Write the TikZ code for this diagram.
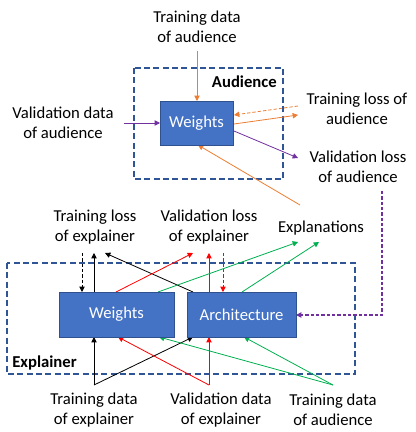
\documentclass[tikz,border=0pt]{standalone}
\usepackage{fontspec}
\setmainfont{Carlito}
\usetikzlibrary{arrows.meta}
\pgfdeclarelayer{edgelayer}
\pgfdeclarelayer{nodelayer}
\pgfsetlayers{edgelayer,nodelayer,main}
\definecolor{boxblue}{HTML}{4472C4}
\definecolor{boxedge}{HTML}{2F528F}
\definecolor{groupblue}{HTML}{2F5597}
\definecolor{aorange}{HTML}{ED7D31}
\definecolor{apurple}{HTML}{7030A0}
\definecolor{agreen}{HTML}{00B050}
\tikzset{font=\fontsize{12.5}{15}\selectfont}
\tikzstyle{none}=[inner sep=0pt]
\tikzstyle{txt}=[align=center,inner sep=0pt]
\tikzstyle{block}=[fill=boxblue,draw=boxedge,text=white,inner sep=0pt]
\tikzstyle{group}=[draw=groupblue,line width=1.1pt,dash pattern=on 4.5pt off 2.5pt]
\tikzstyle{arr}=[line width=0.6pt,-{Triangle[length=4pt,width=4pt]}]
\tikzstyle{dsh}=[dash pattern=on 2.5pt off 1.5pt]

\begin{document}
\begin{tikzpicture}[x=0.75pt,y=-0.75pt]
	\useasboundingbox (0,0) rectangle (416,432);
	\begin{pgfonlayer}{nodelayer}
		\node [style=block,minimum width=54.75pt,minimum height=33pt] (w0) at (196.5,123) {Weights};
		\node [style=block,minimum width=86.25pt,minimum height=33.75pt] (w1) at (116.5,314.5) {Weights};
		\node [style=block,minimum width=81.75pt,minimum height=33.75pt] (ar) at (241.5,314.5) {Architecture};
		\node [style=txt] (t0) at (197,26.5) {Training data\\of audience};
		\node [style=txt] (t1) at (63,123) {Validation data\\of audience};
		\node [style=txt] (t2) at (357,109) {Training loss of\\audience};
		\node [style=txt] (t3) at (358,167) {Validation loss\\of audience};
		\node [style=txt,anchor=east] (t4) at (277,82) {\textbf{Audience}};
		\node [style=txt] (t5) at (95,227) {Training loss\\of explainer};
		\node [style=txt] (t6) at (209,227) {Validation loss\\of explainer};
		\node [style=txt] (t7) at (321,228) {Explanations};
		\node [style=txt,anchor=west] (t8) at (12,363) {\textbf{Explainer}};
		\node [style=txt] (t9) at (94,410) {Training data\\of explainer};
		\node [style=txt] (t10) at (221,410) {Validation data\\of explainer};
		\node [style=txt] (t11) at (333,410) {Training data\\of audience};
		% arrow ends, audience
		\node [style=none] (0) at (197,51) {};
		\node [style=none] (1) at (197,101) {};
		\node [style=none] (2) at (124,123) {};
		\node [style=none] (3) at (160,123) {};
		\node [style=none] (4) at (298,106) {};
		\node [style=none] (5) at (234,115) {};
		\node [style=none] (6) at (234,124) {};
		\node [style=none] (7) at (298,115) {};
		\node [style=none] (8) at (234,131) {};
		\node [style=none] (9) at (298,158) {};
		\node [style=none] (10) at (300,205) {};
		\node [style=none] (11) at (198,145) {};
		\node [style=none] (12) at (382,191) {};
		\node [style=none] (13) at (382,315) {};
		\node [style=none] (14) at (296,315) {};
		% arrow ends, explainer top
		\node [style=none] (15) at (82,253) {};
		\node [style=none] (16) at (82,292) {};
		\node [style=none] (17) at (94,292) {};
		\node [style=none] (18) at (94,253) {};
		\node [style=none] (19) at (193,292) {};
		\node [style=none] (20) at (105,253) {};
		\node [style=none] (21) at (116,292) {};
		\node [style=none] (22) at (193,253) {};
		\node [style=none] (23) at (209,292) {};
		\node [style=none] (24) at (209,253) {};
		\node [style=none] (25) at (223,253) {};
		\node [style=none] (26) at (223,292) {};
		\node [style=none] (27) at (158,292) {};
		\node [style=none] (28) at (298,242) {};
		\node [style=none] (29) at (242,292) {};
		\node [style=none] (30) at (319,242) {};
		% arrow ends, explainer bottom
		\node [style=none] (31) at (94,385) {};
		\node [style=none] (32) at (94,337) {};
		\node [style=none] (33) at (193,337) {};
		\node [style=none] (34) at (209,385) {};
		\node [style=none] (35) at (118,337) {};
		\node [style=none] (36) at (209,337) {};
		\node [style=none] (37) at (333,385) {};
		\node [style=none] (38) at (159,337) {};
		\node [style=none] (39) at (244,337) {};
	\end{pgfonlayer}
	\begin{pgfonlayer}{edgelayer}
		\draw [style=group] (134,68) rectangle (283,179);
		\draw [style=group] (7,263) rectangle (355,374);
		\draw [style=arr,aorange] (0.center) to (1.center);
		\draw [style=arr,apurple] (2.center) to (3.center);
		\draw [style=arr,aorange,style=dsh] (4.center) to (5.center);
		\draw [style=arr,aorange] (6.center) to (7.center);
		\draw [style=arr,apurple] (8.center) to (9.center);
		\draw [style=arr,aorange] (10.center) to (11.center);
		\draw [style=arr,apurple,style=dsh,line width=0.8pt] (12.center) to (13.center) to (14.center);
		\draw [style=arr,black,style=dsh] (15.center) to (16.center);
		\draw [style=arr,black] (17.center) to (18.center);
		\draw [style=arr,black] (19.center) to (20.center);
		\draw [style=arr,red] (21.center) to (22.center);
		\draw [style=arr,red] (23.center) to (24.center);
		\draw [style=arr,red,style=dsh] (25.center) to (26.center);
		\draw [style=arr,agreen] (27.center) to (28.center);
		\draw [style=arr,agreen] (29.center) to (30.center);
		\draw [style=arr,black] (31.center) to (32.center);
		\draw [style=arr,black] (31.center) to (33.center);
		\draw [style=arr,red] (34.center) to (35.center);
		\draw [style=arr,red] (34.center) to (36.center);
		\draw [style=arr,agreen] (37.center) to (38.center);
		\draw [style=arr,agreen] (37.center) to (39.center);
	\end{pgfonlayer}
\end{tikzpicture}
\end{document}
